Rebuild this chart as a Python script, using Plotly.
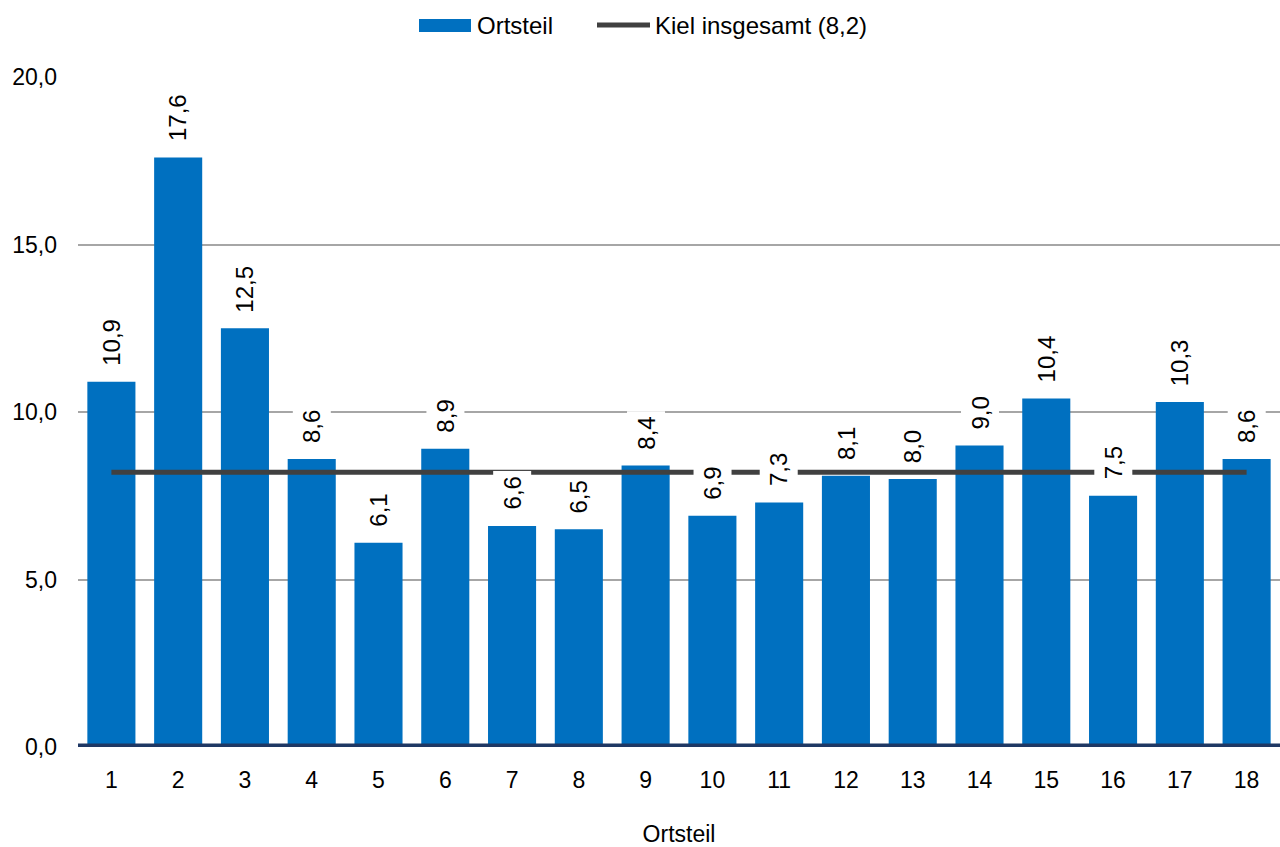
import plotly.graph_objects as go

ortsteile = [str(i) for i in range(1, 19)]
werte = [10.9, 17.6, 12.5, 8.6, 6.1, 8.9, 6.6, 6.5, 8.4, 6.9, 7.3, 8.1, 8.0, 9.0, 10.4, 7.5, 10.3, 8.6]
kiel_gesamt = 8.2
y_ticks = [0, 5, 10, 15, 20]

BLAU = "#0070C0"
GRAU = "#404040"
FONT = "Liberation Sans, Arial, sans-serif"

# plot area in pixels (for the hand-made legend)
L, R, T, B = 78, 0, 77, 100
W, H = 1280, 847
pw, ph = W - L - R, H - T - B


def px_x(p):
    return (p - L) / pw


def px_y(p):
    return (H - B - p) / ph


def lab(v):
    return f"{v:.1f}".replace(".", ",")


fig = go.Figure()
fig.add_trace(go.Bar(x=ortsteile, y=werte, marker=dict(color=BLAU, line=dict(width=0)),
                     name="Ortsteil", showlegend=False))
fig.add_trace(go.Scatter(x=ortsteile, y=[kiel_gesamt] * len(ortsteile), mode="lines",
                         line=dict(color=GRAU, width=5), name="Kiel insgesamt (8,2)",
                         showlegend=False))

# value labels (category index as x so the category axis places them)
for i, v in enumerate(werte):
    fig.add_annotation(x=i, y=v, text=lab(v), textangle=-90, showarrow=False,
                       yanchor="bottom", yshift=10, bgcolor="white", borderpad=5,
                       font=dict(size=24, color="black", family=FONT))

# baseline
fig.add_shape(type="line", xref="paper", yref="y", x0=0, x1=1, y0=0, y1=0,
              line=dict(color="#1F3864", width=7), layer="above")

# legend (drawn by hand)
fig.add_shape(type="rect", xref="paper", yref="paper", x0=px_x(419), x1=px_x(471),
              y0=px_y(32), y1=px_y(19), fillcolor=BLAU, line=dict(width=0))
fig.add_annotation(xref="paper", yref="paper", x=px_x(475), y=px_y(25), text="Ortsteil",
                   showarrow=False, xanchor="left", yanchor="middle",
                   font=dict(size=24, color="black", family=FONT))
fig.add_shape(type="line", xref="paper", yref="paper", x0=px_x(597), x1=px_x(650),
              y0=px_y(25), y1=px_y(25), line=dict(color=GRAU, width=5))
fig.add_annotation(xref="paper", yref="paper", x=px_x(653), y=px_y(25),
                   text="Kiel insgesamt (8,2)", showarrow=False, xanchor="left",
                   yanchor="middle", font=dict(size=24, color="black", family=FONT))

fig.update_layout(
    width=W, height=H,
    margin=dict(l=L, r=R, t=T, b=B),
    plot_bgcolor="white", paper_bgcolor="white",
    bargap=0.28,
    separators=",.",
    font=dict(family=FONT, size=23, color="black"),
    xaxis=dict(type="category", showgrid=False, ticks="", ticklabelstandoff=17,
               title=dict(text="Ortsteil", standoff=34, font=dict(size=23))),
    yaxis=dict(range=[0, 20], tickvals=y_ticks, tickformat=".1f", showgrid=True,
               gridcolor="#A6A6A6", gridwidth=2, zeroline=False, ticks="",
               ticklabelstandoff=20),
)

fig.write_html("out.html", config={"displayModeBar": False},
               post_script="document.body.style.margin='0';")
